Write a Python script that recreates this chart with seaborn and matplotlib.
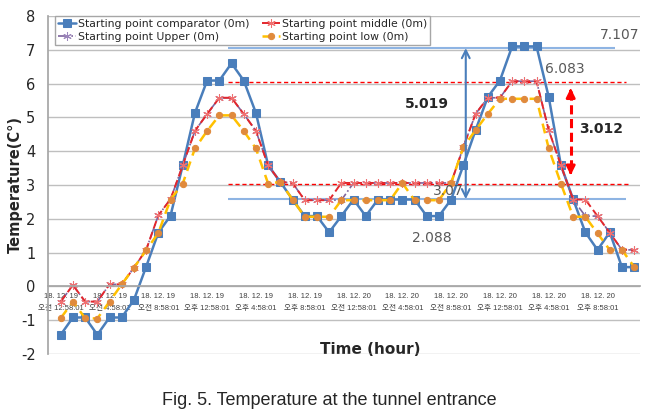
import seaborn as sns
import matplotlib.pyplot as plt

# hourly readings, 18.12.19 00:58 -> 18.12.20 23:58
hours = list(range(48))
comparator = [-1.43, -0.92, -0.92, -1.43, -0.92, -0.92, -0.40, 0.58, 1.59, 2.09,
              3.58, 5.13, 6.09, 6.09, 6.60, 6.09, 5.13, 3.58, 3.09, 2.57,
              2.08, 2.08, 1.60, 2.08, 2.57, 2.08, 2.57, 2.57, 2.57, 2.57,
              2.08, 2.08, 2.57, 3.58, 4.62, 5.60, 6.09, 7.10, 7.10, 7.10,
              5.60, 3.58, 2.58, 1.60, 1.08, 1.60, 0.57, 0.57]
middle = [-0.45, 0.04, -0.45, -0.45, 0.06, 0.06, 0.55, 1.08, 2.10, 2.58,
          3.58, 4.60, 5.10, 5.58, 5.58, 5.10, 4.60, 3.58, 3.09, 3.06,
          2.55, 2.55, 2.55, 3.06, 3.06, 3.06, 3.06, 3.06, 3.06, 3.06,
          3.06, 3.06, 3.06, 4.12, 5.10, 5.58, 5.58, 6.07, 6.07, 6.07,
          4.62, 3.58, 2.57, 2.57, 2.08, 1.59, 1.08, 1.08]
upper = [-0.45, 0.04, -0.45, -0.45, 0.06, 0.06, 0.55, 1.08, 2.10, 2.58,
         3.58, 4.60, 5.10, 5.58, 5.58, 5.10, 4.60, 3.58, 3.09, 3.06,
         2.55, 2.55, 2.55, 2.55, 3.06, 3.06, 3.06, 3.06, 3.06, 3.06,
         3.06, 3.06, 3.06, 4.12, 5.10, 5.58, 5.58, 6.07, 6.07, 6.07,
         4.62, 3.58, 2.57, 2.08, 2.08, 1.59, 1.08, 1.08]
low = [-0.94, -0.45, -0.94, -0.95, -0.45, 0.06, 0.55, 1.07, 1.58, 2.57,
       3.04, 4.08, 4.60, 5.06, 5.06, 4.60, 4.08, 3.04, 3.09, 2.57,
       2.06, 2.06, 2.06, 2.55, 2.55, 2.55, 2.55, 2.55, 3.06, 2.55,
       2.55, 2.55, 3.06, 4.12, 4.62, 5.10, 5.55, 5.55, 5.55, 5.55,
       4.08, 3.04, 2.06, 2.06, 1.57, 1.08, 1.08, 0.58]

tick_dates = ["18. 12. 19"] * 6 + ["18. 12. 20"] * 6
tick_times = ["오전 12:58:01", "오전 4:58:01", "오전 8:58:01",
              "오후 12:58:01", "오후 4:58:01", "오후 8:58:01"] * 2

# hand drawn reference levels and their labels
blue_levels = [7.05, 2.58]
red_levels = [6.05, 3.03]
level_labels = ["7.107", "6.083", "3.07", "2.088"]
gap_labels = ["5.019", "3.012"]

sns.set_theme(style="white")
plt.rcParams["font.family"] = ["DejaVu Sans", "Noto Sans CJK KR"]
plt.rcParams["axes.unicode_minus"] = False

fig = plt.figure(figsize=(6.58, 4.15), dpi=100)
ax = fig.add_axes([0.073, 0.147, 0.9, 0.8145])

sns.lineplot(x=hours, y=comparator, ax=ax, color="#4A7EBB", lw=1.8,
             marker="s", markersize=5.5, markeredgecolor="#4A7EBB",
             label="Starting point comparator (0m)")
sns.lineplot(x=hours, y=upper, ax=ax, color="#7E649E", lw=1.2, linestyle="-.",
             marker=(6, 2, 0), markersize=6, markeredgecolor="#9C86BB",
             label="Starting point Upper (0m)")
sns.lineplot(x=hours, y=middle, ax=ax, color="#E3262C", lw=1.4, linestyle=(0, (4, 2)),
             marker=(6, 2, 0), markersize=6, markeredgecolor="#F07070",
             label="Starting point middle (0m)")
sns.lineplot(x=hours, y=low, ax=ax, color="#FFC000", lw=1.8, linestyle=(0, (4, 2.5)),
             marker="o", markersize=4.5, markerfacecolor="#E08A3C",
             markeredgecolor="#E08A3C", label="Starting point low (0m)")

# reference lines
ax.hlines(blue_levels[0], 13.7, 45.4, color="#8EB4E3", lw=1.5, zorder=1)
ax.hlines(blue_levels[1], 13.7, 46.3, color="#8EB4E3", lw=1.5, zorder=1)
ax.hlines(red_levels[0], 13.7, 46.3, color="#FF0000", lw=1, linestyle=(0, (3, 2)), zorder=1)
ax.hlines(red_levels[1], 13.7, 46.5, color="#FF0000", lw=1, linestyle=(0, (3, 2)), zorder=1)

ax.annotate("", xy=(33.2, blue_levels[0]), xytext=(33.2, blue_levels[1]),
            arrowprops=dict(arrowstyle="<->", color="#4A7EBB", lw=1.5,
                            shrinkA=0, shrinkB=0, mutation_scale=14))
ax.plot([41.8, 41.8], [5.78, 3.37], color="#FF0000", lw=2.2, linestyle=(0, (3, 1.5)))
for y0, y1 in [(5.75, 5.86), (3.40, 3.29)]:
    ax.annotate("", xy=(41.8, y1), xytext=(41.8, y0),
                arrowprops=dict(arrowstyle="-|>", color="#FF0000", lw=2,
                                shrinkA=0, shrinkB=0, mutation_scale=13))

ax.text(45.8, 7.45, level_labels[0], fontsize=10, color="#595959", ha="center", va="center")
ax.text(41.3, 6.42, level_labels[1], fontsize=10, color="#595959", ha="center", va="center")
ax.text(31.8, 2.82, level_labels[2], fontsize=10, color="#595959", ha="center", va="center")
ax.text(30.4, 1.43, level_labels[3], fontsize=10, color="#595959", ha="center", va="center")
ax.text(30.0, 5.41, gap_labels[0], fontsize=10, fontweight="bold", ha="center", va="center")
ax.text(44.3, 4.65, gap_labels[1], fontsize=10, fontweight="bold", ha="center", va="center")

# axes
ax.set_xlim(-1.04, 47.5)
ax.set_ylim(-2, 8)
ax.set_yticks(range(-2, 9))
ax.tick_params(axis="y", labelsize=10.5, length=0, pad=9)
ax.yaxis.grid(True, color="#BFBFBF", lw=1)
ax.set_axisbelow(True)

ax.spines["bottom"].set_position(("data", 0))
for side in ["top", "right"]:
    ax.spines[side].set_visible(False)
for side in ["left", "bottom"]:
    ax.spines[side].set_color("#A6A6A6")

ax.set_xticks(hours[::4])
ax.set_xticklabels([d + "\n" + t for d, t in zip(tick_dates, tick_times)],
                   fontsize=5.5, color="#404040", linespacing=1.9,
                   family=["Liberation Sans", "Noto Sans CJK KR"])
ax.set_xticks(hours, minor=True)
ax.tick_params(axis="x", which="both", direction="inout", length=4, color="#A6A6A6", pad=3)

ax.set_ylabel("Temperature(C°)", fontsize=10.5, fontweight="bold")
ax.yaxis.set_label_coords(-0.043, 0.5)
ax.set_xlabel("Time (hour)", fontsize=11, fontweight="bold")
ax.xaxis.set_label_coords(0.544, 0.035)

ax.legend(ncol=2, loc="upper left", bbox_to_anchor=(0.012, 1.0), fontsize=7.8,
          frameon=True, fancybox=False, edgecolor="#A6A6A6", framealpha=1,
          handlelength=1.6, handletextpad=0.2, columnspacing=1.2,
          borderpad=0.3, labelspacing=0.25, borderaxespad=0)

fig.text(0.5, 0.036, "Fig. 5. Temperature at the tunnel entrance",
         fontsize=13, family="Liberation Sans", ha="center", va="center")

fig.savefig("out.png", dpi=100)
